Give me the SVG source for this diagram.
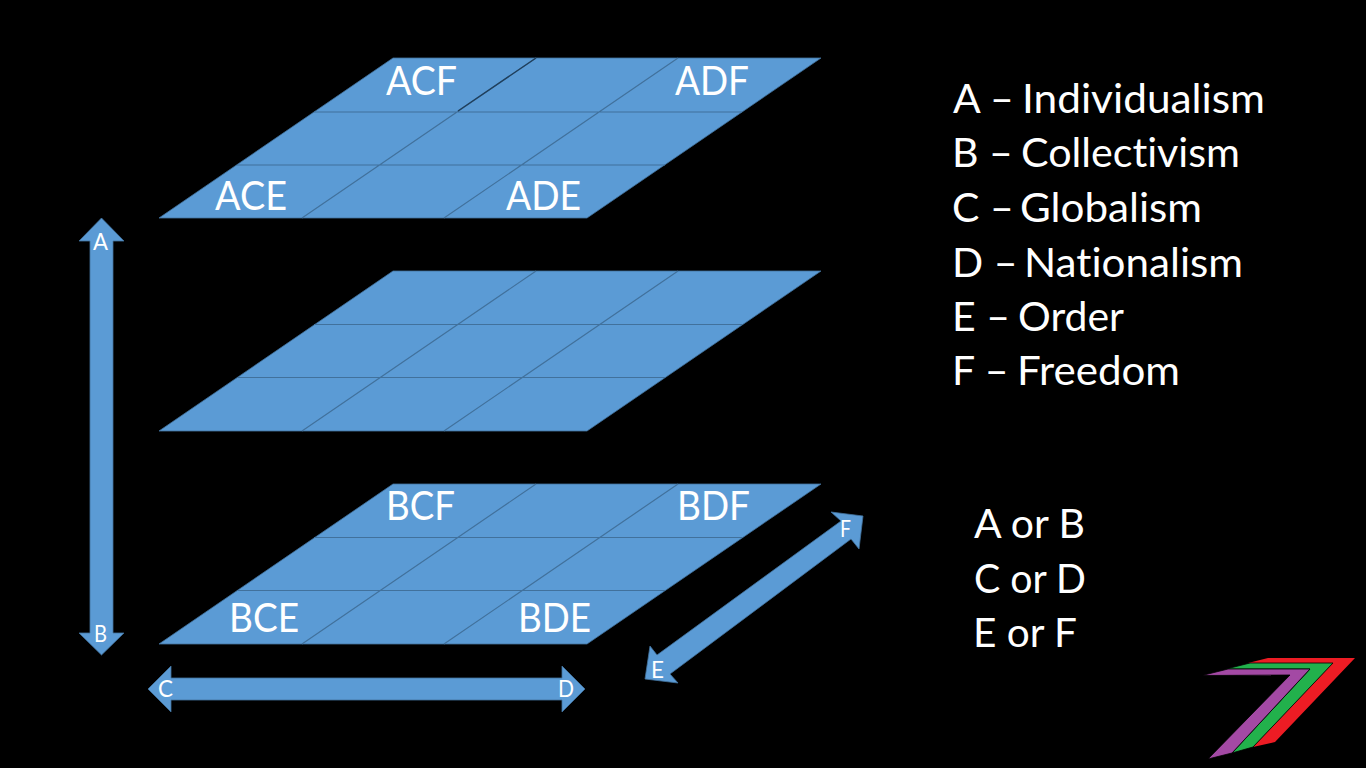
<svg xmlns="http://www.w3.org/2000/svg" width="1366" height="768" viewBox="0 0 1366 768">
<style>
text{font-family:"Lato","Open Sans","Liberation Sans",sans-serif;fill:#fff;font-variant-ligatures:none}
.plane{fill:#5b9bd5;stroke:#41719c;stroke-width:.8}
.grid{stroke:#41719c;stroke-width:1.2;fill:none}
.arrow{fill:#5b9bd5;stroke:#41719c;stroke-width:.8}
.cell{font-size:41px}
.small{font-size:23px}
.legend{font-size:41px}
</style>
<rect width="1366" height="768" fill="#000"/>
<g id="plane-top">
<polygon class="plane" points="393,58 821,58 587,218 159,218"/>
<path class="grid" d="M314,112H742M237,165H665M302,218L536,58M444,218L678,58"/>
<path d="M458,111L536,58" stroke="#1f3f5c" stroke-width="1.4" fill="none"/>
<text class="cell" x="386" y="95" textLength="71" lengthAdjust="spacingAndGlyphs">ACF</text>
<text class="cell" x="675" y="95" textLength="74" lengthAdjust="spacingAndGlyphs">ADF</text>
<text class="cell" x="215" y="210" textLength="72" lengthAdjust="spacingAndGlyphs">ACE</text>
<text class="cell" x="506" y="210" textLength="75" lengthAdjust="spacingAndGlyphs">ADE</text>
</g>
<g id="plane-middle">
<polygon class="plane" points="393,271 821,271 587,431 159,431"/>
<path class="grid" d="M314,324.500H742M237,377.500H665M302,431L536,271M444,431L678,271"/>
</g>
<g id="plane-bottom">
<polygon class="plane" points="393,484 821,484 587,644 159,644"/>
<path class="grid" d="M314,537.500H742M237,590.500H665M302,644L536,484M444,644L678,484"/>
<text class="cell" x="386" y="520" textLength="69" lengthAdjust="spacingAndGlyphs">BCF</text>
<text class="cell" x="677" y="520" textLength="73" lengthAdjust="spacingAndGlyphs">BDF</text>
<text class="cell" x="229" y="632" textLength="70" lengthAdjust="spacingAndGlyphs">BCE</text>
<text class="cell" x="518" y="632" textLength="73" lengthAdjust="spacingAndGlyphs">BDE</text>
</g>
<g id="connectors">
<g id="arrow-ab">
<polygon class="arrow" points="101.500,218 124,241 113,241 113,633 124,633 101.500,655 79,633 90,633 90,241 79,241"/>
<text class="small" x="93" y="250" textLength="15" lengthAdjust="spacingAndGlyphs">A</text>
<text class="small" x="94" y="642" textLength="13" lengthAdjust="spacingAndGlyphs">B</text>
</g>
<g id="arrow-cd">
<polygon class="arrow" points="148,689 171,666 171,678 562,678 562,666 585,689 562,712 562,700 171,700 171,712"/>
<text class="small" x="158" y="697" textLength="15" lengthAdjust="spacingAndGlyphs">C</text>
<text class="small" x="558" y="697" textLength="16" lengthAdjust="spacingAndGlyphs">D</text>
</g>
<g id="arrow-ef">
<polygon class="arrow" points="863,516 859,549 851,539 670,674 678,683 645,679 650,646 657,655 841,521 831,512"/>
<text class="small" x="651" y="678" textLength="13" lengthAdjust="spacingAndGlyphs">E</text>
<text class="small" x="840" y="537" textLength="11" lengthAdjust="spacingAndGlyphs">F</text>
</g>
</g>
<g id="legend">
<text class="legend" y="113"><tspan x="953">A –</tspan> <tspan x="1022" textLength="243" lengthAdjust="spacingAndGlyphs">Individualism</tspan></text>
<text class="legend" y="167"><tspan x="952">B –</tspan> <tspan x="1021" textLength="219" lengthAdjust="spacingAndGlyphs">Collectivism</tspan></text>
<text class="legend" y="222"><tspan x="952">C –</tspan> <tspan x="1020" textLength="182" lengthAdjust="spacingAndGlyphs">Globalism</tspan></text>
<text class="legend" y="277"><tspan x="952">D –</tspan> <tspan x="1024" textLength="219" lengthAdjust="spacingAndGlyphs">Nationalism</tspan></text>
<text class="legend" y="331"><tspan x="952">E –</tspan> <tspan x="1018" textLength="106" lengthAdjust="spacingAndGlyphs">Order</tspan></text>
<text class="legend" y="385"><tspan x="952">F –</tspan> <tspan x="1017" textLength="163" lengthAdjust="spacingAndGlyphs">Freedom</tspan></text>
</g>
<g id="choices">
<text class="legend" x="974" y="538" textLength="111" lengthAdjust="spacingAndGlyphs">A or B</text>
<text class="legend" x="974" y="593" textLength="112" lengthAdjust="spacingAndGlyphs">C or D</text>
<text class="legend" x="973" y="647" textLength="104" lengthAdjust="spacingAndGlyphs">E or F</text>
</g>
<g id="logo">
<polygon fill="#ed1c24" points="1248,663 1268,658 1355,658 1275,742 1253,747 1333,663"/>
<polygon fill="#22b14c" stroke="#000" stroke-width=".8" points="1226,669 1250,663 1333,663 1253,747 1232,753 1310,669"/>
<polygon fill="#a349a4" stroke="#000" stroke-width=".8" points="1202,675.500 1228,669 1310,669 1232,753 1208,759 1290,675"/>
</g>
</svg>
